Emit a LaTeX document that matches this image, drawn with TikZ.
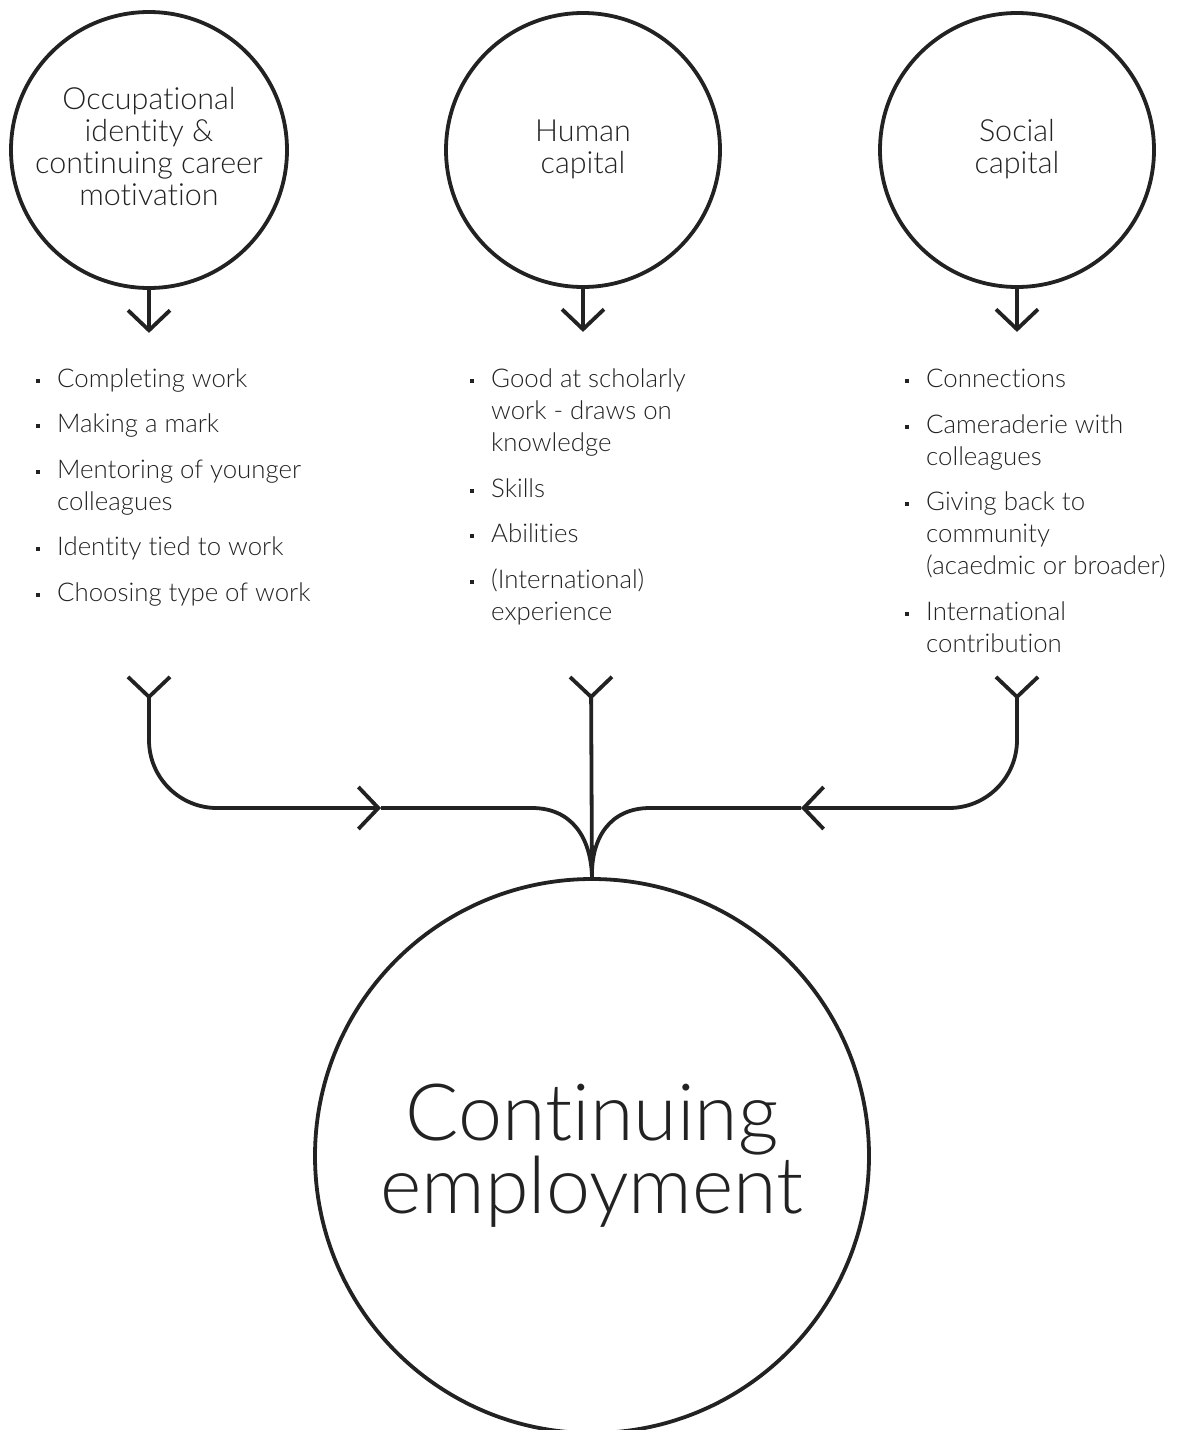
\documentclass[tikz,border=0pt]{standalone}
\usepackage{fontspec}
\setmainfont{Lato Light}[Ligatures=NoCommon]
\usetikzlibrary{arrows.meta}
\definecolor{ink}{HTML}{222222}
\begin{document}
\begin{tikzpicture}[x=1pt,y=-1pt,
  ln/.style={line width=3.8pt, draw=ink},
  circ/.style={circle, draw=ink, line width=3.8pt, minimum size=#1, inner sep=0pt},
  title/.style={font=\fontsize{30.5}{32}\selectfont, align=center, text=ink, inner sep=0pt},
  itm/.style={font=\fontsize{25.8}{32}\selectfont, anchor=base west, inner sep=0pt, text=ink},
  bul/.style={fill=ink, minimum size=4.5pt, inner sep=0pt},
  tipend/.style={-{Straight Barb[length=20pt,width=42pt]}},
  ytip/.style={{Straight Barb[reversed,length=20pt,width=42pt]}-},
  ybothtip/.style={{Straight Barb[reversed,length=20pt,width=42pt]}-{Straight Barb[length=20pt,width=42pt]}},
]
\useasboundingbox (0,0) rectangle (1182,1430);

% top circles
\node[circ=276pt] (c1) at (149,150) {};
\node[circ=274pt] (c2) at (583,150) {};
\node[circ=274pt] (c3) at (1017,150) {};
\node[title] (t1) at (149,147) {Occupational\\identity \&\\continuing career\\motivation};
\node[title] (t2) at (583,149) {Human\\capital};
\node[title] (t3) at (1017,149) {Social\\capital};

% big circle
\node[circ=554pt] (big) at (592,1156) {};
\node[font=\fontsize{79}{70}\selectfont, align=center, text=ink, inner sep=0pt] (bt) at (592,1156) {Continuing\\employment};

% down arrows
\draw[ln, tipend] (c1.south) -- ++(0,43);
\draw[ln, tipend] (c2.south) -- ++(0,43);
\draw[ln, tipend] (c3.south) -- ++(0,43);

% left column
\node[bul] (L1b) at (38,381) {}; \node[itm] (L1) at (57,387) {Completing work};
\node[bul] (L2b) at (38,426) {}; \node[itm] (L2) at (57,432) {Making a mark};
\node[bul] (L3b) at (38,472) {}; \node[itm] (L3) at (57,478) {Mentoring of younger};
\node[itm] (L3x) at (57,510) {colleagues};
\node[bul] (L4b) at (38,549) {}; \node[itm] (L4) at (57,555) {Identity tied to work};
\node[bul] (L5b) at (38,595) {}; \node[itm] (L5) at (57,601) {Choosing type of work};

% middle column
\node[bul] (M1b) at (472,381) {}; \node[itm] (M1) at (491,387) {Good at scholarly};
\node[itm] (M1x) at (491,419) {work - draws on};
\node[itm] (M1y) at (491,451) {knowledge};
\node[bul] (M2b) at (472,491) {}; \node[itm] (M2) at (491,497) {Skills};
\node[bul] (M3b) at (472,536) {}; \node[itm] (M3) at (491,542) {Abilities};
\node[bul] (M4b) at (472,582) {}; \node[itm] (M4) at (491,588) {(International)};
\node[itm] (M4x) at (491,620) {experience};

% right column
\node[bul] (R1b) at (907,381) {}; \node[itm] (R1) at (926,387) {Connections};
\node[bul] (R2b) at (907,427) {}; \node[itm] (R2) at (926,433) {Cameraderie with};
\node[itm] (R2x) at (926,465) {colleagues};
\node[bul] (R3b) at (907,504) {}; \node[itm] (R3) at (926,510) {Giving back to};
\node[itm] (R3x) at (926,542) {community};
\node[itm] (R3y) at (926,574) {(acaedmic or broader)};
\node[bul] (R4b) at (907,614) {}; \node[itm] (R4) at (926,620) {International};
\node[itm] (R4x) at (926,652) {contribution};

% connectors to big circle
\coordinate (y1) at (149,675);
\coordinate (y2) at (591,675);
\coordinate (y3) at (1017,675);
\coordinate (a1) at (381,808);
\coordinate (a3) at (801,808);

\draw[ln, ybothtip] (y1) -- (149,740) arc[start angle=180, end angle=90, radius=68] -- (a1);
\draw[ln] (a1) -- (532,808) .. controls (572,808) and (591,838) .. (big.north);
\draw[ln, ytip] (y2) -- (big.north);
\draw[ln, ybothtip] (y3) -- (1017,740) arc[start angle=0, end angle=90, radius=68] -- (a3);
\draw[ln] (a3) -- (650,808) .. controls (610,808) and (591,838) .. (big.north);
\end{tikzpicture}
\end{document}
